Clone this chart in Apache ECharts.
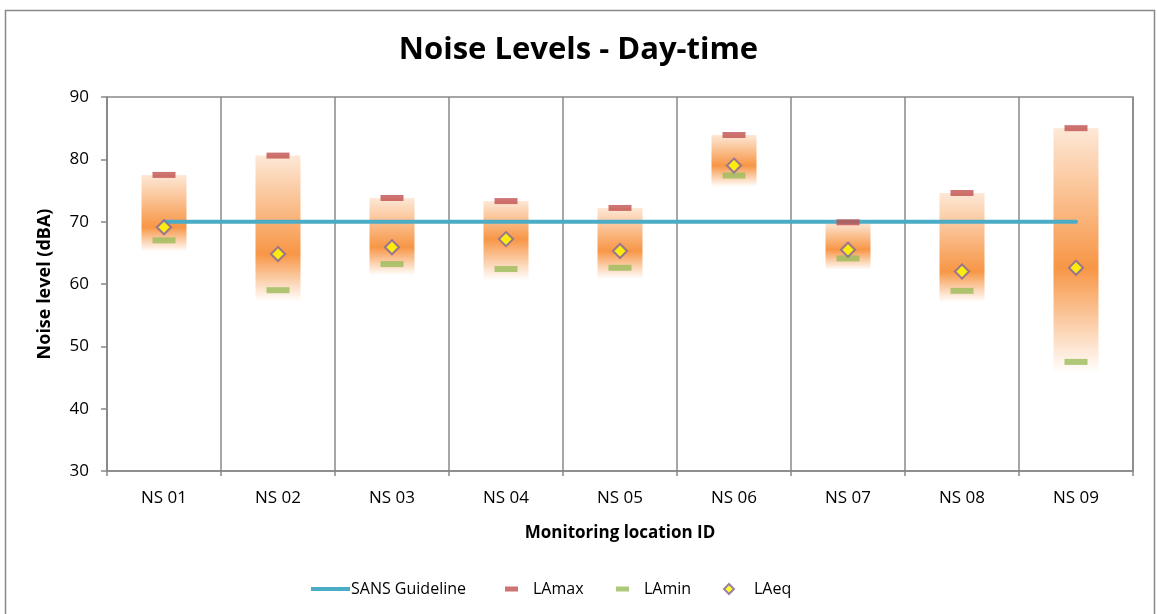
<!DOCTYPE html>
<html>
<head>
<meta charset="utf-8">
<script src="https://cdn.jsdelivr.net/npm/echarts@6/dist/echarts.min.js"></script>
<style>
html,body{margin:0;padding:0;background:#fff;}
#chart{width:1157px;height:614px;}
</style>
</head>
<body>
<div id="chart"></div>
<script>
const categories = ['NS 01','NS 02','NS 03','NS 04','NS 05','NS 06','NS 07','NS 08','NS 09'];
const laMax = [77.5, 80.6, 73.8, 73.3, 72.2, 83.9, 69.9, 74.6, 85.0];
const laMin = [67.0, 59.0, 63.2, 62.4, 62.6, 77.4, 64.1, 58.9, 47.5];
const laEq  = [69.1, 64.8, 65.9, 67.2, 65.3, 79.0, 65.5, 62.0, 62.6];
const sansGuideline = [70, 70, 70, 70, 70, 70, 70, 70, 70];
const yTicks = [30, 40, 50, 60, 70, 80, 90];

const FONT = '"Open Sans", "Liberation Sans", sans-serif';
const fade = 1.8;
const baseVals = laMin.map(v => v - fade);
const spanVals = laMax.map((v, i) => v - baseVals[i]);
const spanData = spanVals.map((s, i) => {
  const off = Math.min(0.98, Math.max(0.02, (laMax[i] - laEq[i]) / s));
  return {
    value: s,
    itemStyle: {
      color: new echarts.graphic.LinearGradient(0, 0, 0, 1, [
        {offset: 0, color: 'rgba(247,150,70,0.22)'},
        {offset: off, color: 'rgba(247,150,70,1)'},
        {offset: 1, color: 'rgba(247,150,70,0)'}
      ])
    }
  };
});

const chart = echarts.init(document.getElementById('chart'), null, {renderer: 'canvas'});
chart.setOption({
  animation: false,
  backgroundColor: '#fff',
  textStyle: {fontFamily: FONT},
  title: {
    text: 'Noise Levels - Day-time',
    left: 'center', top: 30,
    textStyle: {fontFamily: FONT, fontWeight: 'bold', fontSize: 31, color: '#000'}
  },
  graphic: [{
    type: 'rect', left: 3, top: 8, silent: true,
    shape: {width: 1149, height: 620},
    style: {fill: 'none', stroke: '#888', lineWidth: 1.5}
  }],
  legend: [
    {data: [{name: 'SANS Guideline', icon: 'rect'}], left: 306, top: 576, itemWidth: 39, itemHeight: 4, itemGap: 0,
     textStyle: {fontFamily: FONT, fontSize: 16, color: '#000', padding: [0,0,0,-4]}},
    {data: [{name: 'LAmax', icon: 'rect'}], left: 500, top: 576, itemWidth: 13, itemHeight: 5,
     textStyle: {fontFamily: FONT, fontSize: 16, color: '#000', padding: [0,0,0,10]}},
    {data: [{name: 'LAmin', icon: 'rect'}], left: 611, top: 576, itemWidth: 13, itemHeight: 5,
     textStyle: {fontFamily: FONT, fontSize: 16, color: '#000', padding: [0,0,0,10]}},
    {data: [{name: 'LAeq', icon: 'diamond'}], left: 718, top: 576, itemWidth: 10, itemHeight: 10,
     textStyle: {fontFamily: FONT, fontSize: 16, color: '#000', padding: [0,0,0,15]}}
  ],
  grid: {left: 107, right: 24, top: 97, bottom: 143, show: true, borderColor: '#888', borderWidth: 1.5},
  xAxis: {
    type: 'category', data: categories, boundaryGap: true,
    name: 'Monitoring location ID', nameLocation: 'middle', nameGap: 54,
    nameTextStyle: {fontFamily: FONT, fontWeight: 'bold', fontSize: 17, color: '#000'},
    axisLine: {lineStyle: {color: '#888', width: 1.5}},
    axisTick: {show: true, length: 5, lineStyle: {color: '#888', width: 1.5}},
    axisLabel: {fontFamily: FONT, fontSize: 17, color: '#000', margin: 19},
    splitLine: {show: true, lineStyle: {color: '#888', width: 1.5}}
  },
  yAxis: {
    type: 'value', min: 30, max: 90, interval: 10,
    name: 'Noise level (dBA)', nameLocation: 'middle', nameGap: 53,
    nameTextStyle: {fontFamily: FONT, fontWeight: 'bold', fontSize: 18, color: '#000'},
    axisLine: {show: true, lineStyle: {color: '#888', width: 1.5}},
    axisTick: {show: true, length: 6, lineStyle: {color: '#888', width: 1.5}},
    axisLabel: {fontFamily: FONT, fontSize: 17, color: '#000', margin: 18,
      formatter: v => yTicks.includes(v) ? String(v) : ''},
    splitLine: {show: false}
  },
  series: [
    {name: 'base', type: 'bar', stack: 'r', data: baseVals, barWidth: 45, silent: true,
     itemStyle: {color: 'rgba(0,0,0,0)'}, z: 1},
    {name: 'range', type: 'bar', stack: 'r', data: spanData, barWidth: 45, silent: true, z: 1},
    {name: 'SANS Guideline', type: 'line', data: sansGuideline, symbol: 'none', z: 3,
     lineStyle: {color: '#4BACC6', width: 4, cap: 'round'}, itemStyle: {color: '#4BACC6'}},
    {name: 'LAmax', type: 'scatter', data: laMax, symbol: 'rect', symbolSize: [23, 6], z: 4,
     itemStyle: {color: '#C0504D'}},
    {name: 'LAmin', type: 'scatter', data: laMin, symbol: 'rect', symbolSize: [23, 6], z: 4,
     itemStyle: {color: '#9BBB59'}},
    {name: 'LAeq', type: 'scatter', data: laEq, symbol: 'diamond', symbolSize: 14, z: 5,
     itemStyle: {color: '#FFFF00', borderColor: '#8064A2', borderWidth: 2}}
  ]
});
</script>
</body>
</html>
